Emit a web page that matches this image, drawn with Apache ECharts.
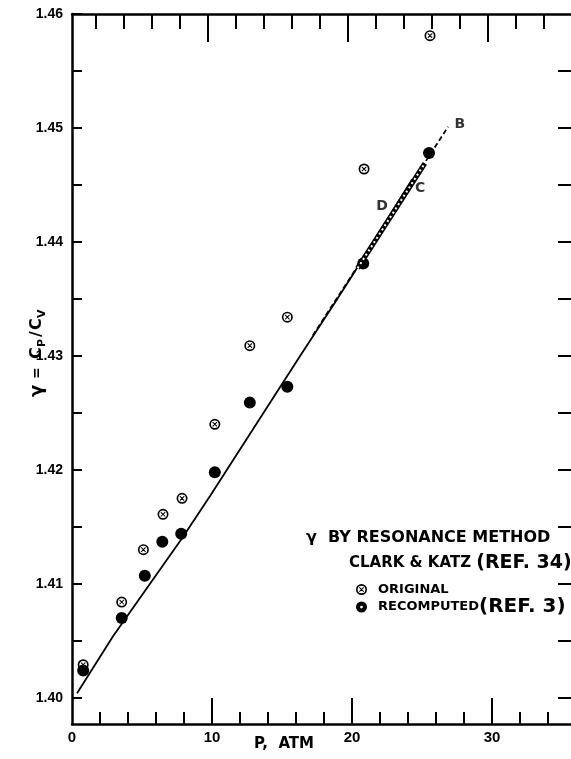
<!DOCTYPE html>
<html><head><meta charset="utf-8">
<script src="https://cdn.jsdelivr.net/npm/echarts@6/dist/echarts.min.js"></script>
<style>html,body{margin:0;padding:0;background:#fff}#c{width:571px;height:759px}</style>
</head><body><div id="c"></div>
<script>
// ---- data ----
const origP = [0.8, 3.55, 5.1, 6.5, 7.86, 10.2, 12.7, 15.38, 20.86, 25.57];
const origG = [1.4029, 1.4084, 1.4130, 1.4161, 1.4175, 1.4240, 1.4309, 1.4334, 1.4464, 1.4581];
const recP = [0.8, 3.55, 5.2, 6.45, 7.8, 10.2, 12.7, 15.38, 20.8, 25.5];
const recG = [1.4024, 1.4070, 1.4107, 1.4137, 1.4144, 1.4198, 1.4259, 1.4273, 1.4381, 1.4478];
const curveD = [[0.36, 1.4004], [2.93, 1.4054], [7.86, 1.4140], [9.86, 1.4177], [16.29, 1.4300], [18.9, 1.4349], [20.1, 1.4372], [24.3, 1.4455]];
const curveB = [[17.2, 1.4318], [26.86, 1.4501]];
const curveC = [[20.4, 1.4377], [25.2, 1.4469]];
const curveLabels = [[27.7, 1.4503, 'B'], [24.86, 1.4447, 'C'], [22.14, 1.4431, 'D']];
const xLabels = [0, 10, 20, 30];
const xMajorTicks = [10, 20, 30];
const xMinorTicks = [2, 4, 6, 8, 12, 14, 16, 18, 22, 24, 26, 28, 32, 34];
const yLabels = [1.40, 1.41, 1.42, 1.43, 1.44, 1.45, 1.46];
const yTicks = [1.400, 1.405, 1.410, 1.415, 1.420, 1.425, 1.430, 1.435, 1.440, 1.445, 1.450, 1.455, 1.460];
const yRightTicks = [1.400, 1.405, 1.410, 1.415, 1.420, 1.425, 1.430, 1.435, 1.440, 1.445, 1.450, 1.455];

const X_MIN = 0, X_MAX = 35.64, TOP_SHIFT = 0.3;
const Y_MIN = 1.3977, Y_MAX = 1.46;

const crossCircle = 'path://M10,0A10,10,0,1,1,10,20A10,10,0,1,1,10,0ZM10,3A7,7,0,1,0,10,17A7,7,0,1,0,10,3Z' +
  'M6.64,5.36L14.64,13.36L13.36,14.64L5.36,6.64Z' +
  'M13.36,5.36L14.64,6.64L6.64,14.64L5.36,13.36Z';
const thickRing = 'path://M10,0A10,10,0,1,1,10,20A10,10,0,1,1,10,0ZM10,7.5A2.5,2.5,0,1,0,10,12.5A2.5,2.5,0,1,0,10,7.5Z';

const BLACK = '#000';
const LET = '"DejaVu Sans", sans-serif';
const NUM = '"Liberation Sans", Arial, sans-serif';

function hAxis(pos, min, max, ticks, len, showLine, labels) {
  return {
    type: 'value', position: pos, min: min, max: max,
    axisLine: { show: showLine, onZero: false, lineStyle: { color: BLACK, width: 2.5 } },
    axisTick: { show: true, inside: true, length: len, customValues: ticks, lineStyle: { color: BLACK, width: 2 } },
    axisLabel: labels ? { show: true, customValues: labels, margin: 6, color: BLACK, fontFamily: NUM, fontWeight: 'bold', fontSize: 15 } : { show: false },
    splitLine: { show: false }
  };
}

function t(text, x, y, size) {
  return { type: 'text', x: x, y: y,
    style: { text: text, font: 'bold ' + size + 'px ' + LET, fill: BLACK, align: 'left', verticalAlign: 'middle', textAlign: 'left', textVerticalAlign: 'middle' } };
}

const chart = echarts.init(document.getElementById('c'), null, { renderer: 'canvas' });
chart.setOption({
  animation: false,
  backgroundColor: '#fff',
  grid: { left: 72, right: 0, top: 14, bottom: 35 },
  xAxis: [
    hAxis('bottom', X_MIN, X_MAX, xMajorTicks, 26, true, xLabels),
    hAxis('bottom', X_MIN, X_MAX, xMinorTicks, 12, false, null),
    hAxis('top', X_MIN + TOP_SHIFT, X_MAX + TOP_SHIFT, xMajorTicks, 28, true, null),
    hAxis('top', X_MIN + TOP_SHIFT, X_MAX + TOP_SHIFT, xMinorTicks, 15, false, null)
  ],
  yAxis: [
    {
      type: 'value', position: 'left', min: Y_MIN, max: Y_MAX,
      axisLine: { show: true, onZero: false, lineStyle: { color: BLACK, width: 2.5 } },
      axisTick: { show: true, inside: true, length: 10, customValues: yTicks, lineStyle: { color: BLACK, width: 2 } },
      axisLabel: { show: true, customValues: yLabels, margin: 9, formatter: v => v.toFixed(2), color: BLACK, fontFamily: NUM, fontWeight: 'bold', fontSize: 14 },
      splitLine: { show: false }
    },
    {
      type: 'value', position: 'right', min: Y_MIN, max: Y_MAX,
      axisLine: { show: false, onZero: false },
      axisTick: { show: true, inside: true, length: 13, customValues: yRightTicks, lineStyle: { color: BLACK, width: 2 } },
      axisLabel: { show: false },
      splitLine: { show: false }
    }
  ],
  legend: {
    orient: 'vertical', left: 356, top: 583, padding: 0, itemGap: 1,
    itemWidth: 11, itemHeight: 11,
    data: [{ name: 'ORIGINAL', icon: crossCircle }, { name: 'RECOMPUTED', icon: thickRing }],
    formatter: n => n === 'RECOMPUTED' ? '{a|RECOMPUTED}{b|(REF. 3)}' : '{a|ORIGINAL}',
    textStyle: {
      color: BLACK, padding: [0, 0, 0, 6],
      rich: {
        a: { fontFamily: LET, fontWeight: 'bold', fontSize: 13, lineHeight: 14, color: BLACK },
        b: { fontFamily: LET, fontWeight: 'bold', fontSize: 20, lineHeight: 14, color: BLACK }
      }
    }
  },
  graphic: [
    { type: 'group', x: 37, y: 345, rotation: Math.PI / 2,
      children: [
        t('γ', -52, 0, 18),
        t('=', -34, 0, 14),
        t('C', -14, 0, 16),
        t('P', -2, 5, 11),
        t('/', 8, 0, 16),
        t('C', 15, 0, 16),
        t('V', 27, 5, 11)
      ] },
    { type: 'text', x: 284, y: 744,
      style: { text: 'P,  ATM', font: 'bold 15px ' + LET, fill: BLACK, align: 'center', verticalAlign: 'middle', textAlign: 'center', textVerticalAlign: 'middle' } },
    t('γ  BY RESONANCE METHOD', 306, 538, 16),
    { type: 'text', x: 349, y: 563,
      style: { text: '{a|CLARK & KATZ }{b|(REF. 34)}', align: 'left', verticalAlign: 'middle', textAlign: 'left', textVerticalAlign: 'middle',
        rich: {
          a: { fontFamily: LET, fontWeight: 'bold', fontSize: 15, fill: BLACK },
          b: { fontFamily: LET, fontWeight: 'bold', fontSize: 19, fill: BLACK }
        } } }
  ],
  series: [
    { type: 'line', name: 'curveD', data: curveD, showSymbol: false, silent: true, lineStyle: { color: BLACK, width: 1.8 } },
    { type: 'line', name: 'curveB', data: curveB, showSymbol: false, silent: true, lineStyle: { color: BLACK, width: 1.8, type: [5, 3] } },
    { type: 'line', name: 'curveC', data: curveC, showSymbol: false, silent: true, lineStyle: { color: BLACK, width: 5 } },
    { type: 'line', name: 'curveC2', data: curveC, showSymbol: false, silent: true, lineStyle: { color: '#fff', width: 2, type: [2, 3] } },
    { type: 'scatter', name: 'ORIGINAL', symbol: crossCircle, symbolSize: 11, silent: true,
      itemStyle: { color: BLACK, opacity: 1 }, data: origP.map((p, i) => [p, origG[i]]) },
    { type: 'scatter', name: 'RECOMPUTED', symbol: 'circle', symbolSize: 12, silent: true,
      itemStyle: { color: BLACK, opacity: 1 }, data: recP.map((p, i) => [p, recG[i]]) },
    { type: 'scatter', name: 'labels', symbolSize: 1, silent: true, itemStyle: { color: 'rgba(0,0,0,0)' },
      data: curveLabels.map(d => ({ value: [d[0], d[1]], name: d[2] })),
      label: { show: true, position: 'inside', formatter: '{b}', color: BLACK, fontFamily: LET, fontWeight: 'bold', fontSize: 14 } }
  ]
});
</script></body></html>
